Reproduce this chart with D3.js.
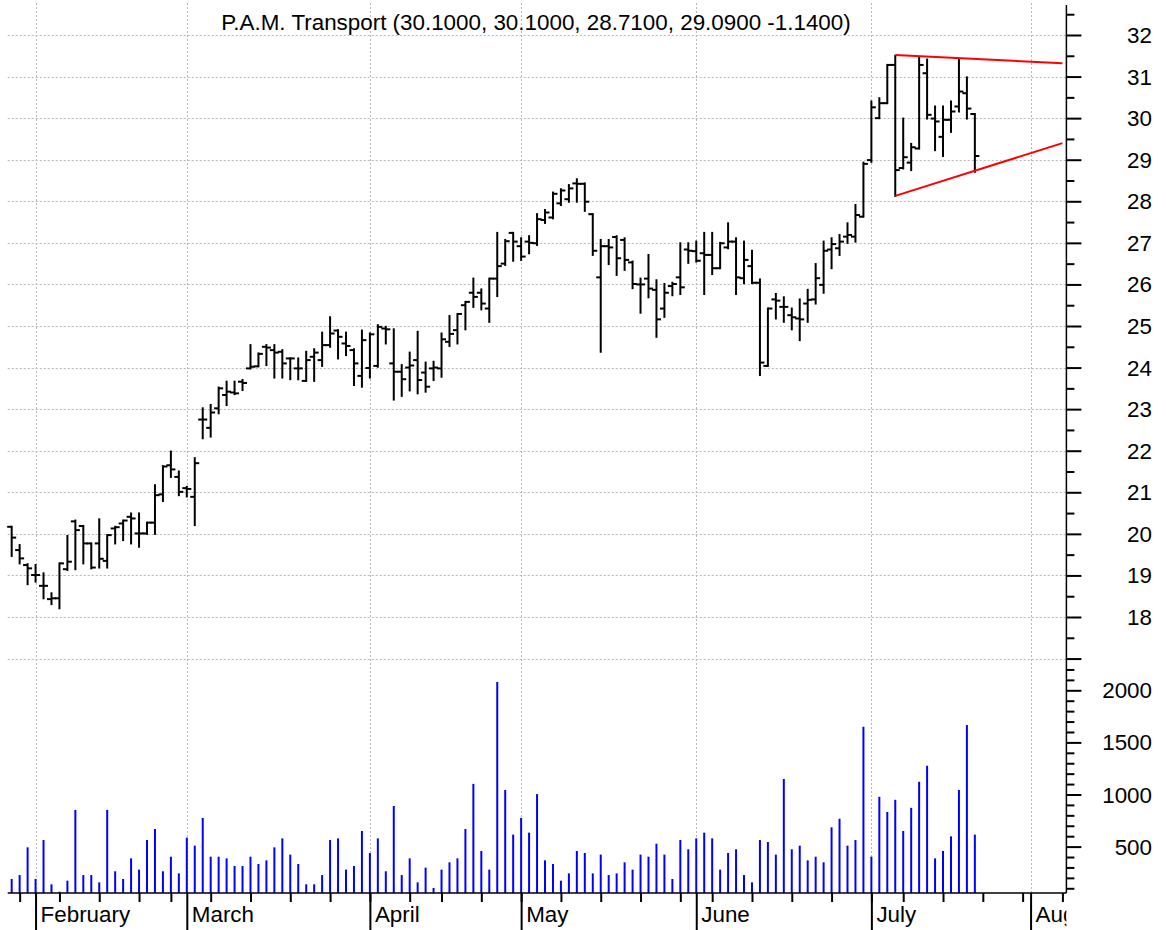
<!DOCTYPE html>
<html><head><meta charset="utf-8">
<script src="https://cdn.jsdelivr.net/npm/d3@7"></script>
<style>
body{margin:0;background:#fff}
svg{display:block}
text{font-family:"Liberation Sans",Arial,sans-serif;fill:#000}
</style>
</head><body>
<svg id="c" width="1166" height="930"></svg>
<script>
// ---------------- DATA ----------------
const title = "P.A.M. Transport (30.1000, 30.1000, 28.7100, 29.0900 -1.1400)";
const firstDay = "2006-01-27", lastDay = "2006-08-07";
const holidays = ["2006-02-20","2006-04-14","2006-05-29","2006-07-04"];

// Jan27..Jul21 2006 daily bars
const open = [
 20.17,19.61,19.25,
 19.01,18.75,18.43,18.45,19.15,20.30,20.19,19.77,19.77,19.35,20.13,20.25,20.41,20.01,20.01,20.27,20.95,21.65,21.37,
 21.10,20.89,22.75,22.55,23.02,23.34,23.40,23.66,23.98,24.03,24.50,24.42,24.38,24.22,23.98,23.68,24.26,24.18,24.54,24.89,24.58,24.42,23.80,
 23.99,24.04,24.94,24.10,23.90,24.00,24.18,23.88,23.98,23.98,24.62,24.90,25.50,25.80,25.80,25.42,26.14,26.50,27.24,
 26.92,27.03,26.99,27.55,27.61,27.95,28.05,28.43,28.42,27.69,26.17,26.92,27.14,27.07,26.53,26.00,26.14,25.87,25.42,25.96,26.17,26.84,
 26.80,26.75,26.71,26.39,26.89,27.03,26.15,26.44,26.04,24.04,25.64,25.46,25.26,25.18,25.54,25.64,25.99,26.84,26.87,27.15,27.15,27.63,
 28.99,30.00,30.36,31.28,28.80,28.93,29.27,31.08,29.99,29.55,29.96,30.28,30.60,30.10
];
const high = [
 20.17,19.73,19.27,
 19.25,19.05,18.57,19.29,19.95,20.32,20.19,19.77,20.35,19.97,20.17,20.32,20.49,20.49,20.27,21.17,21.63,21.98,21.50,
 21.13,21.82,23.02,23.10,23.52,23.66,23.66,23.70,24.54,24.34,24.54,24.54,24.42,24.22,24.22,24.38,24.44,24.84,25.21,24.90,24.84,24.44,24.89,
 24.82,25.02,24.98,24.92,24.06,24.36,24.86,24.12,24.14,24.82,25.24,25.29,25.58,26.14,25.88,26.14,27.24,27.07,27.24,
 27.11,27.16,27.69,27.79,28.21,28.29,28.39,28.53,28.43,27.69,27.07,27.07,27.16,27.11,26.55,26.14,26.71,26.10,26.01,26.04,26.99,26.99,
 27.03,27.24,27.24,27.00,27.47,27.11,27.03,26.81,26.12,25.42,25.77,25.69,25.42,25.64,25.87,26.49,27.03,27.11,27.19,27.47,27.91,28.93,
 30.40,30.48,31.28,31.50,29.99,29.38,31.46,31.41,30.28,30.28,30.40,31.41,30.98,30.10
];
const low = [
 19.47,19.29,18.79,
 18.85,18.45,18.31,18.21,19.13,19.15,19.29,19.17,19.19,19.19,19.77,19.85,19.77,19.69,20.00,20.00,20.79,21.37,20.93,
 20.90,20.21,22.30,22.34,22.90,23.10,23.36,23.46,23.98,24.03,24.06,23.76,23.76,23.72,23.72,23.68,23.68,24.04,24.50,24.22,24.30,23.58,23.54,
 23.76,24.02,24.58,23.23,23.32,23.45,23.38,23.42,23.70,23.78,24.52,24.58,24.92,25.46,25.40,25.10,25.72,26.47,26.57,
 26.59,26.75,26.95,27.48,27.59,27.91,27.99,27.99,27.77,26.71,24.38,26.49,26.23,26.35,25.91,25.32,25.69,24.74,25.22,25.74,25.77,26.52,
 26.55,25.77,26.25,26.39,26.87,25.77,26.03,26.03,23.82,24.04,25.18,25.10,24.92,24.66,25.10,25.54,25.80,26.39,26.71,27.00,27.03,27.63,
 28.95,30.00,30.36,28.13,28.79,28.75,29.27,29.99,29.23,29.09,29.67,30.16,29.99,28.71
];
const close = [
 19.91,19.41,19.17,
 19.01,18.75,18.45,19.29,19.33,20.09,19.77,19.19,19.40,19.97,20.16,20.32,20.37,20.01,20.27,20.93,21.62,21.55,21.01,
 21.08,21.70,22.75,22.92,23.50,23.42,23.38,23.63,24.02,24.33,24.48,24.36,24.10,24.22,23.98,24.18,24.36,24.54,24.82,24.74,24.52,24.10,24.66,
 24.80,24.98,24.92,23.90,23.72,24.05,23.70,23.54,24.00,24.68,24.81,25.29,25.58,25.70,25.54,26.14,26.44,27.04,27.03,
 26.67,27.00,27.57,27.73,28.18,28.26,28.31,28.42,27.99,26.81,26.92,26.89,26.63,26.59,26.01,26.00,25.90,25.16,25.80,26.01,25.93,26.81,
 26.57,26.71,26.39,26.99,27.03,26.17,26.59,26.04,24.12,25.42,25.61,25.46,25.21,25.16,25.63,26.15,26.81,26.97,27.03,27.19,27.67,28.90,
 30.26,30.36,31.28,28.75,29.06,29.30,31.28,30.08,29.92,29.96,30.16,30.64,30.23,29.09
];
const volume = [
 189,227,493,
 189,563,138,67,173,852,227,227,157,852,263,189,387,279,563,669,263,403,243,
 586,509,775,403,403,387,314,314,403,333,368,493,579,423,333,138,138,227,563,579,279,314,650,
 439,579,263,890,227,387,157,298,103,279,349,387,669,1102,458,279,2080,1043,615,
 775,634,1004,368,333,173,243,458,439,243,423,227,243,349,279,423,403,528,423,189,563,474,
 579,634,579,279,439,474,227,157,563,544,423,1149,474,509,368,403,349,685,767,509,563,1650,
 403,978,832,949,650,872,1122,1276,387,458,598,1043,1667,615
];

// triangle trend lines [date, price]
const upperLine = [["2006-07-07",31.52],["2006-08-07",31.32]];
const lowerLine = [["2006-07-07",28.13],["2006-08-07",29.40]];

const priceMajor = [17,18,19,20,21,22,23,24,25,26,27,28,29,30,31,32];
const priceMinor = [17.5,18.5,19.5,20.5,21.5,22.5,23.5,24.5,25.5,26.5,27.5,28.5,29.5,30.5,31.5,32.5];
const priceLabels = [18,19,20,21,22,23,24,25,26,27,28,29,30,31,32];
const volMajor = [500,1000,1500,2000];
const volMinor = [100,200,300,400,600,700,800,900,1100,1200,1300,1400,1600,1700,1800,1900,2100,2200];
const monthNames = ["February","March","April","May","June","July","August"];

// ---------------- LAYOUT ----------------
const plotL = 7.7, plotR = 1066.4, plotT = 3, plotB = 893;
const FS = 22.4;
const svg = d3.select("#c");
const fmt = d3.timeFormat("%Y-%m-%d");
const parse = d3.timeParse("%Y-%m-%d");

const days = d3.timeDay.range(parse(firstDay), d3.timeDay.offset(parse(lastDay), 1))
  .filter(d => d.getDay() !== 0 && d.getDay() !== 6 && !holidays.includes(fmt(d)));
const dayKeys = days.map(fmt);
const bars = open.map((o, i) => ({date: dayKeys[i], o, h: high[i], l: low[i], c: close[i], v: volume[i]}));

const x = d3.scalePoint().domain(dayKeys).range([plotL, plotR]).padding(0.5);
const yP = d3.scaleLinear().domain([18, 32]).range([617, 35]);
const yV = d3.scaleLinear().domain([0, 2000]).range([898.7, 690.3]);

// first trading day of month / week
const monthStarts = days.filter((d, i) => i > 0 && d.getMonth() !== days[i-1].getMonth());
const weekStarts = days.filter((d, i) => i > 0 && d3.timeMonday.floor(d) > days[i-1]);

svg.append("defs").append("clipPath").attr("id", "plotclip")
  .append("rect").attr("x", 0).attr("y", 0).attr("width", plotR).attr("height", 930);

// grid
const grid = svg.append("g").attr("stroke", "#b8b8b8").attr("stroke-width", 1).attr("stroke-dasharray", "2,2");
grid.selectAll("line.h").data(priceMajor).join("line")
  .attr("x1", plotL).attr("x2", plotR)
  .attr("y1", d => Math.round(yP(d)) + 0.5).attr("y2", d => Math.round(yP(d)) + 0.5);
grid.selectAll("line.v").data(monthStarts).join("line")
  .attr("x1", d => Math.round(x(fmt(d))) + 0.5).attr("x2", d => Math.round(x(fmt(d))) + 0.5)
  .attr("y1", plotT).attr("y2", plotB);

// title
svg.append("text").attr("x", 536).attr("y", 30).attr("text-anchor", "middle")
  .attr("font-size", FS).text(title);

// volume bars
svg.append("g").selectAll("line").data(bars).join("line")
  .attr("x1", d => x(d.date)).attr("x2", d => x(d.date))
  .attr("y1", plotB).attr("y2", d => yV(d.v))
  .attr("stroke", "#0000ff").attr("stroke-width", 2);

// OHLC bars
const ob = svg.append("g").attr("stroke", "#000").attr("stroke-width", 2).attr("stroke-linecap", "butt");
const g = ob.selectAll("g").data(bars).join("g");
g.append("line").attr("x1", d => x(d.date)).attr("x2", d => x(d.date))
  .attr("y1", d => yP(d.h) - 1).attr("y2", d => yP(d.l) + 1);
g.append("line").attr("x1", d => x(d.date) - 4.5).attr("x2", d => x(d.date))
  .attr("y1", d => yP(d.o)).attr("y2", d => yP(d.o));
g.append("line").attr("x1", d => x(d.date)).attr("x2", d => x(d.date) + 4.5)
  .attr("y1", d => yP(d.c)).attr("y2", d => yP(d.c));

// trend lines
[upperLine, lowerLine].forEach(ln => {
  svg.append("line")
    .attr("x1", x(ln[0][0])).attr("y1", yP(ln[0][1]))
    .attr("x2", x(ln[1][0])).attr("y2", yP(ln[1][1]))
    .attr("stroke", "#ff0000").attr("stroke-width", 2);
});

// right axis
const ax = svg.append("g");
ax.append("g").attr("transform", `translate(${plotR},0)`)
  .call(d3.axisRight(yP).tickValues(priceMajor).tickSize(15).tickFormat(""));
ax.append("g").attr("transform", `translate(${plotR},0)`)
  .call(d3.axisRight(yP).tickValues(priceMinor).tickSize(8).tickFormat(""));
ax.append("g").attr("transform", `translate(${plotR},0)`)
  .call(d3.axisRight(yV).tickValues(volMajor).tickSize(15).tickFormat(""));
ax.append("g").attr("transform", `translate(${plotR},0)`)
  .call(d3.axisRight(yV).tickValues(volMinor).tickSize(8).tickFormat(""));
ax.selectAll(".domain").remove();
ax.selectAll(".tick line").attr("stroke", "#000").attr("stroke-width", 2);
ax.append("line").attr("x1", plotR).attr("x2", plotR).attr("y1", plotT + 2).attr("y2", plotB)
  .attr("stroke", "#000").attr("stroke-width", 1.5);

svg.append("g").selectAll("text").data(priceLabels).join("text")
  .attr("x", 1152).attr("y", d => yP(d) + 8).attr("text-anchor", "end")
  .attr("font-size", FS).text(d => d);
svg.append("g").selectAll("text").data(volMajor).join("text")
  .attr("x", 1152).attr("y", d => yV(d) + 8).attr("text-anchor", "end")
  .attr("font-size", FS).text(d => d);

// bottom axis
const bx = svg.append("g");
bx.append("g").attr("transform", `translate(0,${plotB})`)
  .call(d3.axisBottom(x).tickValues(weekStarts.map(fmt)).tickSize(9).tickFormat(""));
bx.append("g").attr("transform", `translate(0,${plotB})`)
  .call(d3.axisBottom(x).tickValues(monthStarts.map(fmt)).tickSize(37).tickFormat(""));
bx.selectAll(".domain").remove();
bx.selectAll(".tick line").attr("stroke", "#000").attr("stroke-width", 2);
bx.append("line").attr("x1", plotL).attr("x2", plotR).attr("y1", plotB).attr("y2", plotB)
  .attr("stroke", "#000").attr("stroke-width", 1.5);

svg.append("g").attr("clip-path", "url(#plotclip)")
  .selectAll("text").data(monthStarts).join("text")
  .attr("x", d => x(fmt(d)) + 5).attr("y", 922)
  .attr("font-size", FS).text((d, i) => monthNames[i]);
</script>
</body></html>
